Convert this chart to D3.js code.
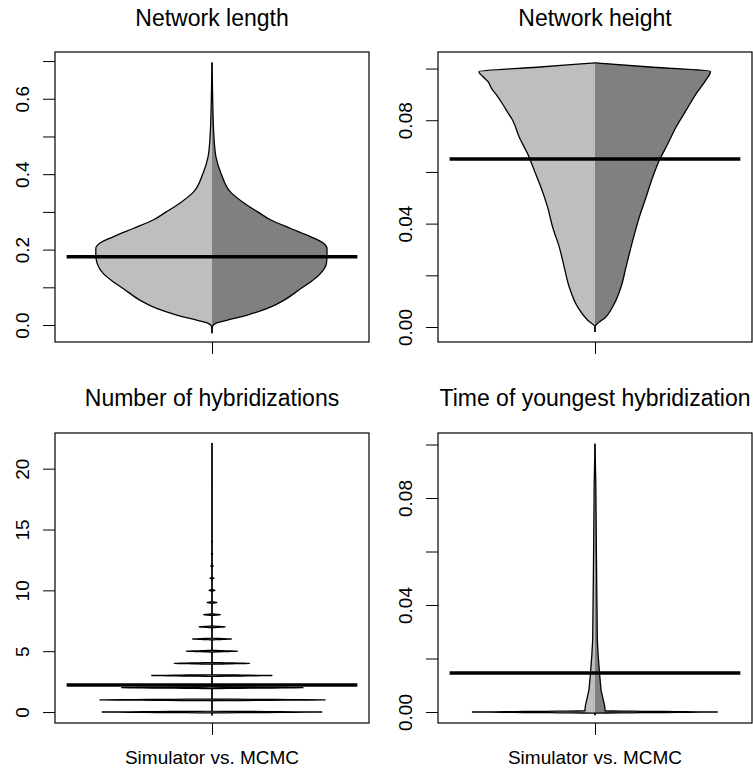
<!DOCTYPE html>
<html>
<head>
<meta charset="utf-8">
<script src="https://cdn.jsdelivr.net/npm/d3@7"></script>
<style>
  body { margin: 0; background: #fff; }
  svg { display: block; }
  text { font-family: "Liberation Sans", Arial, Helvetica, sans-serif; fill: #000; }
</style>
</head>
<body>
<svg id="chart" width="753" height="771"></svg>
<script>
// titles and axis text
const titles = ["Network length", "Network height", "Number of hybridizations", "Time of youngest hybridization"];
const xLabel = "Simulator vs. MCMC";

// Network length: bean outline (value, relative density) for each half
const lenValues = [-0.022, -0.0045, 0.0045, 0.013, 0.0265, 0.044, 0.066, 0.097, 0.115, 0.137, 0.1636, 0.185, 0.2034, 0.217, 0.234, 0.256, 0.2785, 0.30, 0.323, 0.351, 0.402, 0.446, 0.508, 0.597, 0.696];
const lenSim  = [0, 0.003, 0.032, 0.132, 0.304, 0.477, 0.621, 0.765, 0.851, 0.937, 0.989, 1.0, 1.0, 0.966, 0.851, 0.678, 0.506, 0.394, 0.278, 0.164, 0.078, 0.034, 0.015, 0.006, 0];
const lenMcmc = [0, 0.003, 0.032, 0.132, 0.304, 0.477, 0.621, 0.765, 0.851, 0.935, 0.985, 0.99, 0.99, 0.96, 0.851, 0.678, 0.506, 0.394, 0.278, 0.164, 0.078, 0.034, 0.015, 0.006, 0];
const lenMeans = [0.181, 0.181];
const lenTicks = [0, 0.1, 0.2, 0.3, 0.4, 0.5, 0.6, 0.7];
const lenTickLabels = ["0.0", "", "0.2", "", "0.4", "", "0.6", ""];

// Network height
const heightSimValues = [-0.0019, 0, 0.0026, 0.0077, 0.0155, 0.0232, 0.031, 0.0387, 0.0464, 0.0542, 0.0606, 0.067, 0.0735, 0.080, 0.0827, 0.0859, 0.0897, 0.0923, 0.0949, 0.0968, 0.0988, 0.1005, 0.1022];
const heightSim = [0, 0, 0.063, 0.149, 0.222, 0.265, 0.308, 0.365, 0.408, 0.466, 0.523, 0.580, 0.653, 0.709, 0.747, 0.790, 0.847, 0.891, 0.920, 0.963, 1.0, 0.5, 0];
const heightMcmcValues = [-0.0019, 0, 0.0039, 0.009, 0.0155, 0.0232, 0.0335, 0.0426, 0.0503, 0.058, 0.0645, 0.0709, 0.0774, 0.0838, 0.0903, 0.0957, 0.0989, 0.1005, 0.1022];
const heightMcmc = [0, 0, 0.095, 0.166, 0.224, 0.267, 0.325, 0.382, 0.44, 0.497, 0.554, 0.627, 0.698, 0.784, 0.871, 0.957, 0.994, 0.5, 0];
const heightMeans = [0.065, 0.065];
const heightTicks = [0, 0.02, 0.04, 0.06, 0.08, 0.10];
const heightTickLabels = ["0.00", "", "0.04", "", "0.08", ""];

// Number of hybridizations: relative frequency of each count
const hybValues = d3.range(0, 23);
const hybSim  = [1.0, 0.991, 0.784, 0.543, 0.336, 0.22, 0.172, 0.116, 0.072, 0.043, 0.026, 0.017, 0.011, 0.006, 0.0035, 0.002, 0.0013, 0.0009, 0.0007, 0.0005, 0.0003, 0.0002, 0.0002];
const hybMcmc = [1.0, 1.0, 0.79, 0.54, 0.334, 0.218, 0.172, 0.118, 0.072, 0.043, 0.026, 0.017, 0.011, 0.006, 0.0035, 0.002, 0.0013, 0.0009, 0.0007, 0.0005, 0.0003, 0.0002, 0.0002];
const hybMeans = [2.22, 2.22];
const hybTicks = [0, 5, 10, 15, 20];
const hybTickLabels = ["0", "5", "10", "15", "20"];

// Time of youngest hybridization: mass at zero plus a narrow continuous part
const youngZero = [0.997, 0.994];
const youngValues = [-0.0003, 0, 0.0012, 0.0025, 0.0082, 0.0145, 0.0207, 0.0269, 0.0426, 0.06, 0.085, 0.1003];
const youngSim  = [0, 0.086, 0.086, 0.082, 0.052, 0.039, 0.028, 0.02, 0.016, 0.012, 0.007, 0];
const youngMcmc = [0, 0.086, 0.086, 0.082, 0.052, 0.039, 0.028, 0.02, 0.016, 0.012, 0.007, 0];
const youngMeans = [0.0146, 0.0146];
const youngTicks = [0, 0.02, 0.04, 0.06, 0.08, 0.10];
const youngTickLabels = ["0.00", "", "0.04", "", "0.08", ""];

const svg = d3.select("#chart");
const halfColors = ["#BEBEBE", "#808080"];
const maxW = 0.37;      // half bean width in x units
const lineHalf = 0.463; // half length of mean line

const zip = (vs, ws) => vs.map((v, i) => [v, ws[i]]);

// sample a width function densely in pixel space
function sample(y, vMin, vMax, fn) {
  const pts = [];
  for (let py = y(vMax); py <= y(vMin); py += 0.1) {
    const v = y.invert(py);
    pts.push([v, fn(v, py)]);
  }
  return pts;
}
// thin triangular spike of a point mass at value k (half thickness t px)
const spike = (y, k, py, t) => Math.max(0, 1 - Math.abs(py - y(k)) / t);

const panels = [
  { title: titles[0], left: 55, right: 369, top: 52, bottom: 342, titleY: 26, yDomain: [-0.045, 0.724],
    ticks: lenTicks, labels: lenTickLabels, means: lenMeans, xlab: false,
    halves: () => [zip(lenValues, lenSim), zip(lenValues, lenMcmc)], smooth: true },
  { title: titles[1], left: 438, right: 752, top: 52, bottom: 342, titleY: 26, yDomain: [-0.0058, 0.1064],
    ticks: heightTicks, labels: heightTickLabels, means: heightMeans, xlab: false,
    halves: () => [zip(heightSimValues, heightSim), zip(heightMcmcValues, heightMcmc)], smooth: true },
  { title: titles[2], left: 55, right: 369, top: 433, bottom: 723, titleY: 406, yDomain: [-0.9, 22.93],
    ticks: hybTicks, labels: hybTickLabels, means: hybMeans, xlab: true,
    halves: y => [hybSim, hybMcmc].map(freq => sample(y, -0.3, 22.1,
      (v, py) => d3.sum(hybValues, (k, i) => freq[i] * spike(y, k, py, 0.85)))), smooth: false },
  { title: titles[3], left: 438, right: 752, top: 433, bottom: 723, titleY: 406, yDomain: [-0.0041, 0.1043],
    ticks: youngTicks, labels: youngTickLabels, means: youngMeans, xlab: true,
    halves: y => [youngSim, youngMcmc].map((w, s) => {
      const cont = d3.scaleLinear().domain(youngValues).range(w).clamp(true);
      return sample(y, -0.0012, 0.1003, (v, py) => youngZero[s] * spike(y, 0, py, 1.1) + cont(v));
    }), smooth: false }
];

panels.forEach(p => {
  const x = d3.scaleLinear().domain([0.5, 1.5]).range([p.left, p.right]);
  const y = d3.scaleLinear().domain(p.yDomain).range([p.bottom, p.top]);
  const g = svg.append("g");
  const curve = p.smooth ? d3.curveMonotoneY : d3.curveLinear;

  p.halves(y).forEach((prof, s) => {
    const sign = s === 0 ? -1 : 1;
    const area = d3.area().curve(curve)
      .y(d => y(d[0])).x0(x(1)).x1(d => x(1 + sign * d[1] * maxW));
    const edge = d3.line().curve(curve)
      .y(d => y(d[0])).x(d => x(1 + sign * d[1] * maxW));
    g.append("path").attr("d", area(prof)).attr("fill", halfColors[s]).attr("stroke", "none");
    g.append("path").attr("d", edge(prof)).attr("fill", "none")
      .attr("stroke", "#000").attr("stroke-width", 1.3).attr("stroke-linejoin", "round");
  });

  // mean lines
  p.means.forEach((m, s) => {
    const sign = s === 0 ? -1 : 1;
    g.append("line")
      .attr("x1", x(1)).attr("x2", x(1 + sign * lineHalf))
      .attr("y1", y(m)).attr("y2", y(m))
      .attr("stroke", "#000").attr("stroke-width", 3.5);
  });

  // y axis
  const yAxis = g.append("g")
    .attr("transform", `translate(${p.left},0)`)
    .call(d3.axisLeft(y).tickValues(p.ticks).tickSize(12).tickFormat((d, i) => p.labels[i]));
  yAxis.select(".domain").remove();
  yAxis.selectAll(".tick line").attr("stroke", "#000").attr("stroke-width", 1);
  yAxis.selectAll(".tick text")
    .attr("x", 0).attr("dy", 0)
    .attr("transform", "translate(-26,0) rotate(-90)")
    .attr("text-anchor", "middle")
    .style("font-size", "19px")
    .attr("font-family", null).attr("fill", "#000");

  // x axis tick
  const xAxis = g.append("g")
    .attr("transform", `translate(0,${p.bottom})`)
    .call(d3.axisBottom(x).tickValues([1]).tickSize(12).tickFormat(() => ""));
  xAxis.select(".domain").remove();
  xAxis.selectAll(".tick line").attr("stroke", "#000").attr("stroke-width", 1);

  // box
  g.append("rect")
    .attr("x", p.left).attr("y", p.top)
    .attr("width", p.right - p.left).attr("height", p.bottom - p.top)
    .attr("fill", "none").attr("stroke", "#000").attr("stroke-width", 1.2);

  g.append("text")
    .attr("x", x(1)).attr("y", p.titleY)
    .attr("text-anchor", "middle")
    .style("font-size", "23px")
    .text(p.title);

  if (p.xlab) {
    g.append("text")
      .attr("x", x(1)).attr("y", 764)
      .attr("text-anchor", "middle")
      .style("font-size", "19px")
      .text(xLabel);
  }
});
</script>
</body>
</html>
